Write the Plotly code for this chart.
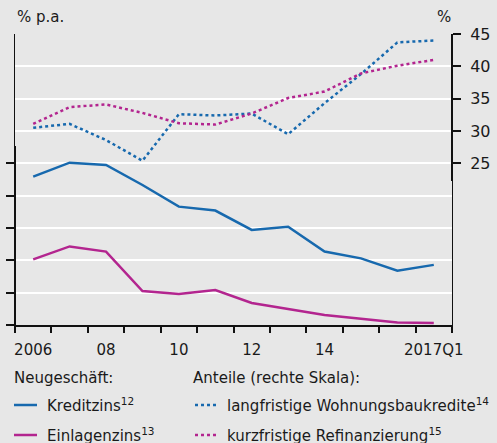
import plotly.graph_objects as go

# ---- data ----
periods = ["2006", "2007", "2008", "2009", "2010", "2011", "2012", "2013", "2014", "2015", "2016", "2017Q1"]
x_pos = list(range(len(periods)))
tick_positions = [0, 2, 4, 6, 8, 11]
tick_labels = ["2006", "08", "10", "12", "14", "2017Q1"]

kreditzins = [4.59, 5.02, 4.95, 4.33, 3.66, 3.54, 2.94, 3.04, 2.27, 2.06, 1.68, 1.86]
einlagenzins = [2.03, 2.43, 2.27, 1.05, 0.96, 1.08, 0.68, 0.49, 0.31, 0.19, 0.08, 0.06]
langfristig = [30.5, 31.1, 28.6, 25.4, 32.6, 32.4, 32.7, 29.5, 34.3, 38.8, 43.7, 44.0]
kurzfristig = [31.1, 33.7, 34.1, 32.8, 31.2, 31.0, 32.7, 35.1, 36.1, 38.9, 40.1, 41.0]

left_ticks = [0, 1, 2, 3, 4, 5]
right_ticks = [25, 30, 35, 40, 45]

BLUE = "#1769ae"
MAG = "#b3258f"
BG = "#e7e7e7"
FONT = "DejaVu Sans"
TXT = "#1a1a1a"

fig = go.Figure()
fig.add_trace(go.Scatter(x=x_pos, y=kreditzins, mode="lines", line=dict(color=BLUE, width=2.5), yaxis="y", showlegend=False))
fig.add_trace(go.Scatter(x=x_pos, y=einlagenzins, mode="lines", line=dict(color=MAG, width=2.5), yaxis="y", showlegend=False))
fig.add_trace(go.Scatter(x=x_pos, y=langfristig, mode="lines", line=dict(color=BLUE, width=2.5, dash="dot"), yaxis="y2", showlegend=False))
fig.add_trace(go.Scatter(x=x_pos, y=kurzfristig, mode="lines", line=dict(color=MAG, width=2.5, dash="dot"), yaxis="y2", showlegend=False))

W, H = 497, 443
x0, x1 = 15 / W, 452 / W
y0, y1 = 1 - 325 / H, 1 - 34 / H

fig.update_layout(
    width=W, height=H,
    margin=dict(l=0, r=0, t=0, b=0, autoexpand=False),
    paper_bgcolor=BG, plot_bgcolor=BG,
    font=dict(family=FONT, size=14, color=TXT),
    xaxis=dict(
        domain=[x0, x1], range=[-0.5, 11.5], automargin=False,
        tickvals=tick_positions, ticktext=tick_labels,
        ticks="outside", ticklen=10, tickcolor="rgba(0,0,0,0)",
        showgrid=False, zeroline=False,
        showline=True, linecolor="#111", linewidth=1.5,
        tickfont=dict(size=15),
        minor=dict(tickvals=[i - 0.5 for i in range(13)], ticks="outside", ticklen=6,
                   tickcolor="#111", tickwidth=1.5, showgrid=False),
    ),
    yaxis=dict(
        domain=[y0, y1], range=[0, 9], automargin=False,
        tickvals=left_ticks, showticklabels=False,
        ticks="outside", ticklen=8, tickcolor="#111", tickwidth=1.5,
        showgrid=False, zeroline=False,
        showline=True, linecolor="#111", linewidth=1,
        minor=dict(tickvals=list(range(1, 10)), showgrid=True, gridcolor="white", gridwidth=2, ticks=""),
    ),
    yaxis2=dict(
        overlaying="y", side="right", anchor="x", range=[0, 45], automargin=False,
        tickvals=right_ticks, ticks="outside", ticklen=8, tickcolor="#111", tickwidth=1.5,
        ticklabelstandoff=6,
        showgrid=False, zeroline=False,
        showline=True, linecolor="#111", linewidth=1,
        tickfont=dict(size=16),
    ),
)

# thicker axis segments
fig.add_shape(type="line", xref="paper", yref="paper", x0=x0, x1=x0, y0=y0, y1=1 - 146 / H,
              line=dict(color="#111", width=2))
fig.add_shape(type="line", xref="paper", yref="paper", x0=x1, x1=x1, y0=1 - 181 / H, y1=y1,
              line=dict(color="#111", width=2))

# axis titles
fig.add_annotation(text="% p.a.", x=15 / W, y=1 - 17 / H, xref="paper", yref="paper",
                   xanchor="left", yanchor="middle", showarrow=False, font=dict(size=15))
fig.add_annotation(text="%", x=444 / W, y=1 - 17 / H, xref="paper", yref="paper",
                   xanchor="center", yanchor="middle", showarrow=False, font=dict(size=15))

# legend (drawn manually)
def legend_text(txt, px, py):
    fig.add_annotation(text=txt, x=px / W, y=1 - py / H, xref="paper", yref="paper",
                       xanchor="left", yanchor="middle", showarrow=False, font=dict(size=15))

def legend_line(px0, px1, py, color, dash):
    fig.add_shape(type="line", xref="paper", yref="paper", x0=px0 / W, x1=px1 / W,
                  y0=1 - py / H, y1=1 - py / H, line=dict(color=color, width=2.5, dash=dash))

legend_text("Neugeschäft:", 12, 378)
legend_text("Anteile (rechte Skala):", 191, 378)
legend_line(14, 37, 405, BLUE, "solid")
legend_text("Kreditzins<sup>12</sup>", 45, 405)
legend_line(14, 37, 435, MAG, "solid")
legend_text("Einlagenzins<sup>13</sup>", 45, 435)
legend_line(195, 216, 405, BLUE, "dot")
legend_text("langfristige Wohnungsbaukredite<sup>14</sup>", 225, 405)
legend_line(195, 216, 435, MAG, "dot")
legend_text("kurzfristige Refinanzierung<sup>15</sup>", 225, 435)

fig.write_html("out.html", config={"displayModeBar": False},
               post_script="document.body.style.margin='0px';document.body.style.overflow='hidden';")
